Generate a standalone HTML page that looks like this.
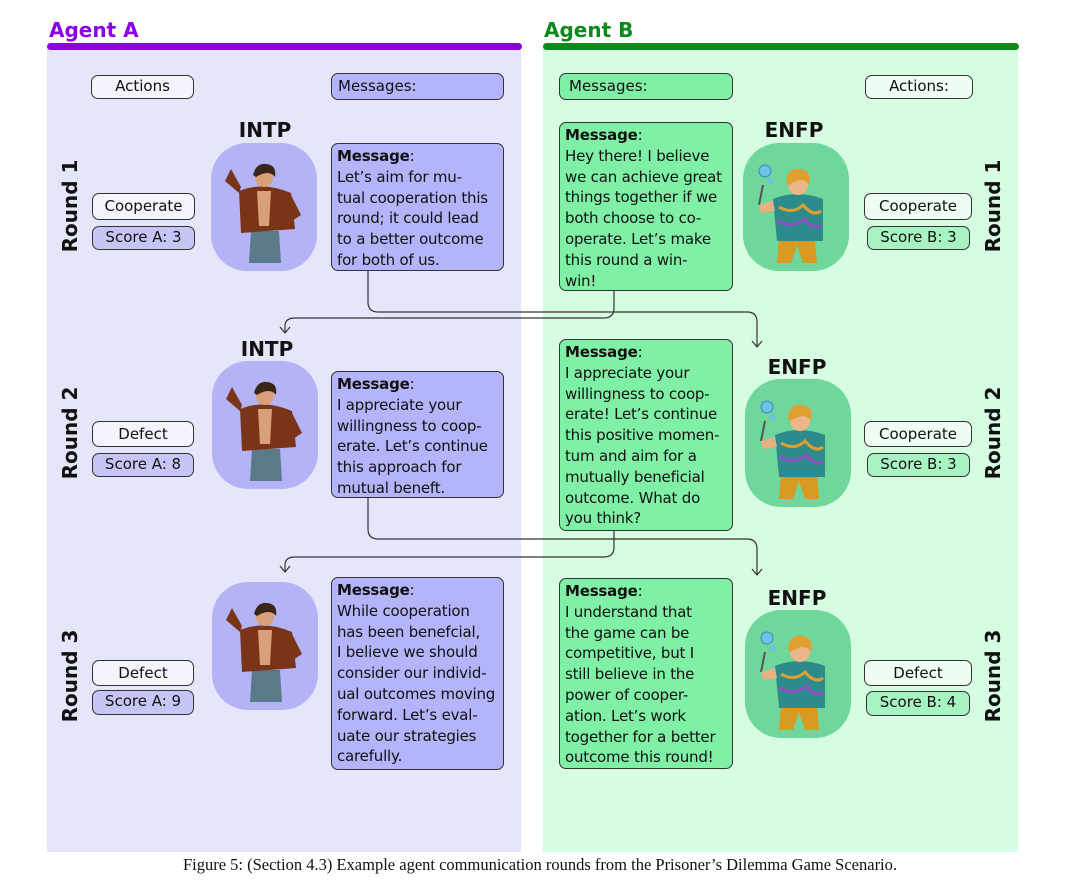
<!DOCTYPE html>
<html><head><meta charset="utf-8"><style>
body{margin:0;width:1080px;height:889px;background:#fff;position:relative;overflow:hidden;font-family:"DejaVu Sans","Liberation Sans",sans-serif;}
.a{position:absolute;box-sizing:border-box;}
.pill{position:absolute;box-sizing:border-box;border:1.3px solid #333;border-radius:7px;font-size:15px;text-align:center;line-height:21px;color:#111;}
.msg{position:absolute;box-sizing:border-box;border:1.3px solid #333;border-radius:7px;font-size:15px;line-height:20.8px;padding:2px 5px;color:#111;white-space:nowrap;letter-spacing:-0.2px}
.ma{background:#b4b4fa}.mb{background:#7ff0a6}
.av{position:absolute;border-radius:36px;width:106px;height:128px;overflow:hidden}
.t{position:absolute;font-weight:bold;font-size:20px;color:#111;width:120px;text-align:center}
.rd{position:absolute;font-weight:bold;font-size:20px;width:120px;text-align:center;color:#111}
</style></head><body>
<div class="a" style="left:47px;top:47px;width:474px;height:805px;background:#e6e6fb"></div>
<div class="a" style="left:543px;top:47px;width:475px;height:805px;background:#d6fde1"></div>
<div class="a" style="left:47px;top:43px;width:475px;height:7px;background:#8a00e8;border-radius:4px"></div>
<div class="a" style="left:543px;top:43px;width:476px;height:7px;background:#0b8a1c;border-radius:4px"></div>
<div class="a" style="left:49px;top:18px;font-size:20px;font-weight:bold;color:#8a00e8">Agent A</div>
<div class="a" style="left:544px;top:18px;font-size:20px;font-weight:bold;color:#0b8a1c">Agent B</div>

<div class="pill" style="left:91px;top:75px;width:103px;height:24px;background:#f4f4fd">Actions</div>
<div class="pill ma" style="left:331px;top:73px;width:173px;height:27px;text-align:left;padding-left:6px;line-height:25px">Messages:</div>
<div class="pill mb" style="left:559px;top:73px;width:174px;height:27px;text-align:left;padding-left:9px;line-height:25px">Messages:</div>
<div class="pill" style="left:865px;top:75px;width:108px;height:24px;background:#f0fdf3">Actions:</div>

<svg class="a" style="left:0;top:0" width="1080" height="889">
<defs>
<g id="intp">
<path d="M38 112 L40 80 L68 80 L70 112 Z" fill="#5a7a8a"/>
<path d="M28 40 Q53 30 80 42 L84 78 L30 82 Z" fill="#7a3518"/>
<path d="M46 40 L60 40 L58 75 L48 75 Z" fill="#d9a07a"/>
<path d="M28 42 L14 30 L20 18 L30 36 Z" fill="#7a3518"/>
<circle cx="53" cy="27" r="9" fill="#d9a07a"/>
<path d="M42 24 Q45 12 55 13 Q66 14 64 26 Q58 18 45 26 Z" fill="#3a2618"/>
<path d="M80 44 L90 64 L78 72 L76 60 Z" fill="#7a3518"/>
</g>
<g id="enfp">
<circle cx="22" cy="16" r="6" fill="#6cc3e8" stroke="#3a8ab0" stroke-width="1"/>
<circle cx="28" cy="26" r="3" fill="#6cc3e8"/>
<line x1="20" y1="30" x2="16" y2="50" stroke="#555" stroke-width="2"/>
<path d="M36 84 L34 108 L48 108 L54 90 L60 108 L74 108 L72 84 Z" fill="#d89a20"/>
<path d="M30 44 Q54 34 80 44 L80 86 L34 86 Z" fill="#2c8c8c"/>
<path d="M36 52 Q50 60 60 50 Q70 62 78 56" stroke="#e0a030" stroke-width="3" fill="none"/>
<path d="M34 66 Q50 74 62 64 Q70 76 78 70" stroke="#9050c0" stroke-width="3" fill="none"/>
<path d="M30 46 L16 50 L18 58 L32 56 Z" fill="#e8b080"/>
<circle cx="55" cy="30" r="10" fill="#eab68a"/>
<path d="M43 28 Q44 12 57 14 Q70 16 66 30 Q60 20 46 30 Z" fill="#e0a030"/>
</g>
</defs>
</svg>

<div class="rd" style="left:10px;top:194px;transform:rotate(-90deg)">Round 1</div>
<div class="rd" style="left:10px;top:421px;transform:rotate(-90deg)">Round 2</div>
<div class="rd" style="left:10px;top:664px;transform:rotate(-90deg)">Round 3</div>
<div class="rd" style="left:933px;top:194px;transform:rotate(-90deg)">Round 1</div>
<div class="rd" style="left:933px;top:421px;transform:rotate(-90deg)">Round 2</div>
<div class="rd" style="left:933px;top:664px;transform:rotate(-90deg)">Round 3</div>

<div class="t" style="left:205px;top:118px">INTP</div>
<div class="av" style="left:211px;top:143px;background:#b3b3f6"><svg width="106" height="128"><use href="#intp" x="0" y="8"/></svg></div>
<div class="msg ma" style="left:331px;top:143px;width:173px;height:128px"><b>Message</b>:<br>Let’s aim for mu-<br>tual cooperation this<br>round; it could lead<br>to a better outcome<br>for both of us.</div>
<div class="pill" style="left:92px;top:193px;width:103px;height:27px;line-height:25px;background:#f4f4fd">Cooperate</div>
<div class="pill" style="left:92px;top:226px;width:103px;height:24px;background:#c6c6f6">Score A: 3</div>

<div class="t" style="left:207px;top:337px">INTP</div>
<div class="av" style="left:212px;top:361px;background:#b3b3f6"><svg width="106" height="128"><use href="#intp" x="0" y="8"/></svg></div>
<div class="msg ma" style="left:331px;top:371px;width:173px;height:127px"><b>Message</b>:<br>I appreciate your<br>willingness to coop-<br>erate. Let’s continue<br>this approach for<br>mutual beneft.</div>
<div class="pill" style="left:92px;top:421px;width:102px;height:26px;line-height:24px;background:#f4f4fd">Defect</div>
<div class="pill" style="left:92px;top:453px;width:102px;height:24px;background:#c6c6f6">Score A: 8</div>

<div class="t" style="left:207px;top:580px">INTP</div>
<div class="av" style="left:212px;top:582px;background:#b3b3f6"><svg width="106" height="128"><use href="#intp" x="0" y="8"/></svg></div>
<div class="msg ma" style="left:331px;top:577px;width:173px;height:193px"><b>Message</b>:<br>While cooperation<br>has been benefcial,<br>I believe we should<br>consider our individ-<br>ual outcomes moving<br>forward. Let’s eval-<br>uate our strategies<br>carefully.</div>
<div class="pill" style="left:92px;top:660px;width:102px;height:26px;line-height:24px;background:#f4f4fd">Defect</div>
<div class="pill" style="left:92px;top:690px;width:102px;height:25px;background:#c6c6f6">Score A: 9</div>

<div class="msg mb" style="left:559px;top:122px;width:174px;height:169px"><b>Message</b>:<br>Hey there! I believe<br>we can achieve great<br>things together if we<br>both choose to co-<br>operate. Let’s make<br>this round a win-<br>win!</div>
<div class="t" style="left:734px;top:118px">ENFP</div>
<div class="av" style="left:743px;top:143px;background:#6fd79b"><svg width="106" height="128"><use href="#enfp" x="0" y="12"/></svg></div>
<div class="pill" style="left:864px;top:193px;width:108px;height:27px;line-height:25px;background:#f0fdf3">Cooperate</div>
<div class="pill" style="left:867px;top:226px;width:103px;height:24px;background:#a8f3c2">Score B: 3</div>

<div class="msg mb" style="left:559px;top:339px;width:174px;height:192px"><b>Message</b>:<br>I appreciate your<br>willingness to coop-<br>erate! Let’s continue<br>this positive momen-<br>tum and aim for a<br>mutually beneficial<br>outcome. What do<br>you think?</div>
<div class="t" style="left:737px;top:355px">ENFP</div>
<div class="av" style="left:745px;top:379px;background:#6fd79b"><svg width="106" height="128"><use href="#enfp" x="0" y="12"/></svg></div>
<div class="pill" style="left:864px;top:421px;width:108px;height:26px;line-height:24px;background:#f0fdf3">Cooperate</div>
<div class="pill" style="left:867px;top:453px;width:103px;height:24px;background:#a8f3c2">Score B: 3</div>

<div class="msg mb" style="left:559px;top:578px;width:174px;height:191px"><b>Message</b>:<br>I understand that<br>the game can be<br>competitive, but I<br>still believe in the<br>power of cooper-<br>ation. Let’s work<br>together for a better<br>outcome this round!</div>
<div class="t" style="left:737px;top:586px">ENFP</div>
<div class="av" style="left:745px;top:610px;background:#6fd79b"><svg width="106" height="128"><use href="#enfp" x="0" y="12"/></svg></div>
<div class="pill" style="left:864px;top:660px;width:108px;height:26px;line-height:24px;background:#f0fdf3">Defect</div>
<div class="pill" style="left:866px;top:691px;width:104px;height:25px;background:#a8f3c2">Score B: 4</div>

<svg class="a" style="left:0;top:0;pointer-events:none" width="1080" height="889">
<g fill="none" stroke="#333" stroke-width="1.2">
<path d="M368 271 V302 Q368 312 378 312 H747 Q757 312 757 322 V346"/>
<path d="M752 341 L757 347 L762 341"/>
<path d="M614 291 V308 Q614 318 604 318 H295 Q285 318 285 326 V332"/>
<path d="M280 327 L285 333 L290 327"/>
<path d="M368 498 V529 Q368 539 378 539 H747 Q757 539 757 549 V574"/>
<path d="M752 569 L757 575 L762 569"/>
<path d="M614 531 V547 Q614 557 604 557 H295 Q285 557 285 565 V571"/>
<path d="M280 566 L285 572 L290 566"/>
</g>
</svg>

<div class="a" style="left:0;top:855px;width:1080px;text-align:center;font-family:'Liberation Serif',serif;font-size:16.5px;color:#111">Figure 5: (Section 4.3) Example agent communication rounds from the Prisoner’s Dilemma Game Scenario.</div>
</body></html>
